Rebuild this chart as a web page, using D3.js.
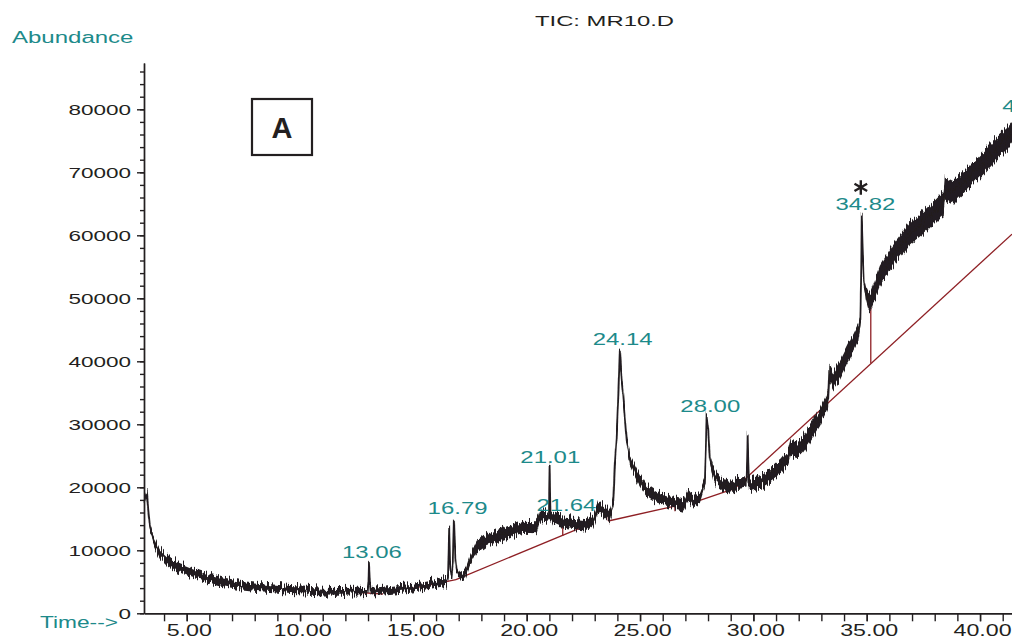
<!DOCTYPE html>
<html>
<head>
<meta charset="utf-8">
<script src="https://cdn.jsdelivr.net/npm/d3@7"></script>
<style>
  body { margin: 0; background: #fff; }
  svg { display: block; font-family: Arial, "Liberation Sans", Helvetica, sans-serif; }
</style>
</head>
<body>
<div id="chart-area"></div>
<script>
// retention time (min) / abundance
const time = [3.12, 3.2, 3.24, 3.31, 3.38, 3.53, 3.82, 4.12, 4.41, 4.85, 5.29, 5.88, 6.61, 7.35, 8.09, 8.82,
  9.56, 10.29, 11.03, 11.76, 12.5, 12.98, 13.02, 13.04, 13.08, 13.12, 13.23, 13.97, 14.7, 15.29, 15.88, 16.47,
  16.53, 16.58, 16.63, 16.68, 16.74, 16.79, 16.85, 16.91, 17.06, 17.28, 17.5, 17.79, 18.23, 18.82, 19.41, 19.85,
  20.44, 20.58, 20.88, 20.98, 21.01, 21.05, 21.17, 21.46, 22.05, 22.64, 22.94, 23.16, 23.45, 23.67, 23.82, 23.89,
  23.97, 24.04, 24.11, 24.19, 24.26, 24.33, 24.41, 24.55, 24.77, 24.99, 25.29, 25.73, 26.17, 26.61, 26.91, 27.13,
  27.35, 27.64, 27.86, 27.94, 28.01, 28.08, 28.23, 28.38, 28.67, 28.96, 29.26, 29.7, 29.75, 29.8, 29.88, 30.32,
  30.76, 31.2, 31.55, 31.64, 31.91, 32.2, 32.5, 32.94, 33.23, 33.3, 33.35, 33.52, 33.82, 34.11, 34.41, 34.63,
  34.72, 34.76, 34.78, 34.82, 34.87, 34.95, 35.07, 35.17, 35.58, 36.17, 36.9, 37.64, 38.22, 38.4, 38.45, 38.81,
  39.41, 40.14, 40.87, 41.24, 41.41];
const abundance = [17900, 19000, 19300, 16400, 13700, 11600, 9500, 8450, 7650, 7000, 6350, 5700, 5000, 4500, 4200, 3970,
  3700, 3600, 3450, 3400, 3430, 3450, 5000, 8030, 5000, 3450, 3430, 3700, 3970, 4220, 4600, 5010,
  6000, 13650, 7000, 5800, 8000, 15240, 9000, 6870, 5800, 6100, 8460, 10570, 11630, 12430, 13220, 13740,
  13650, 15330, 15440, 15400, 23420, 15300, 15080, 14540, 14280, 14010, 14810, 16920, 16120, 15330, 17460, 23800,
  28030, 34370, 41900, 37030, 34370, 31200, 27500, 24330, 22740, 21160, 19570, 18500, 17980, 17460, 17190, 18770,
  17710, 18250, 20630, 31310, 29090, 24850, 22220, 21160, 20360, 20090, 20520, 20600, 28450, 20600, 20400, 20900,
  21950, 23270, 24800, 26200, 25920, 26980, 28570, 31200, 33330, 34000, 38200, 37030, 38610, 40720, 42850, 44440,
  46500, 55000, 63300, 58000, 53000, 51000, 49700, 49500, 53500, 56900, 60300, 62400, 64500, 65000, 67500, 66800,
  68800, 71500, 74300, 75500, 76300];
// half-width of the noise band around the trace
const noise = [500, 500, 400, 500, 600, 700, 750, 750, 750, 750, 750, 720, 700, 680, 650, 620,
  620, 620, 620, 620, 620, 550, 100, 80, 100, 550, 620, 620, 620, 620, 620, 620,
  150, 100, 150, 200, 150, 100, 150, 350, 600, 750, 850, 950, 950, 950, 950, 950,
  950, 950, 900, 400, 100, 400, 900, 900, 900, 900, 900, 900, 900, 900, 600, 300,
  200, 150, 100, 300, 450, 550, 650, 800, 900, 900, 900, 900, 900, 900, 900, 900,
  900, 900, 600, 150, 300, 600, 850, 900, 950, 950, 1000, 800, 100, 800, 1000, 1050,
  1100, 1150, 1200, 1200, 1250, 1250, 1300, 1300, 1300, 1300, 1300, 1350, 1400, 1400, 1450, 1450,
  800, 200, 100, 200, 600, 1100, 1450, 1500, 1650, 1700, 1750, 1750, 1800, 1800, 1800, 1800,
  1800, 1850, 1850, 1850, 1850];

// integration baselines [t0, v0, t1, v1]
const baselines = [[12.5, 3330, 13.66, 3060], [14.85, 3860, 16.88, 5360], [16.88, 5360, 22.43, 13650],
  [23.6, 14650, 26.54, 17030], [27.35, 17550, 29.19, 19840], [29.19, 19840, 41.41, 60190]];
// drop lines [t, vLow, vHigh]
const drops = [[21.59, 12270, 14010], [23.6, 14650, 15300], [26.54, 16200, 17030], [35.18, 39680, 49880]];

// peak labels and where they sit
const peakNames = ["13.06", "16.79", "21.01", "21.64", "24.14", "28.00", "34.82", "41.25"];
const peakLabelT = [13.17, 16.95, 21.04, 21.75, 24.23, 28.1, 34.94, 42.3];
const peakLabelV = [8780, 15760, 23900, 16280, 42580, 31990, 64000, 79500];
// marked peak (asterisk)
const starT = 34.74, starV = 67600;

const yMajor = [0, 10000, 20000, 30000, 40000, 50000, 60000, 70000, 80000];
const xMajor = [5, 10, 15, 20, 25, 30, 35, 40];

const width = 1012, height = 640;
const ink = '#231f20', teal = '#1d8a8a', red = '#8e1f24';

const x = d3.scaleLinear().domain([3.116, 41.41]).range([144, 1012]);
const y = d3.scaleLinear().domain([0, 87350]).range([613.3, 63]);

const svg = d3.select('#chart-area').append('svg')
    .attr('width', width).attr('height', height);

// roughen the trace so it reads like a noisy detector signal
const jag = svg.append('defs').append('filter').attr('id', 'jag')
    .attr('x', '-1%').attr('y', '-5%').attr('width', '102%').attr('height', '110%');
jag.append('feTurbulence').attr('type', 'fractalNoise').attr('baseFrequency', '0.9 0.03')
    .attr('numOctaves', 2).attr('seed', 7).attr('result', 'noise');
jag.append('feColorMatrix').attr('in', 'noise').attr('type', 'matrix')
    .attr('values', '0 0 0 0 0.5  0 1 0 0 0  0 0 0 0 0  0 0 0 0 1').attr('result', 'ny');
jag.append('feDisplacementMap').attr('in', 'SourceGraphic').attr('in2', 'ny')
    .attr('scale', 15).attr('xChannelSelector', 'R').attr('yChannelSelector', 'G');

// stretch a text to k times its natural width, keeping its anchor
function stretch(sel, k, anchor) {
    sel.each(function() {
        const t = d3.select(this);
        const w = this.getComputedTextLength() * k;
        const x0 = +t.attr('x') || 0;
        const sx = anchor === 'end' ? x0 - w : anchor === 'middle' ? x0 - w / 2 : x0;
        t.attr('text-anchor', 'start').attr('x', sx)
         .attr('textLength', w).attr('lengthAdjust', 'spacingAndGlyphs');
    });
}

// y axis: minor every 2000, major every 10000
svg.append('g').attr('transform', 'translate(144,0)')
    .call(d3.axisLeft(y).tickValues(d3.range(0, 87350, 2000)).tickSize(4).tickSizeOuter(0).tickFormat(''))
    .call(g => g.selectAll('line,path').attr('stroke', ink).attr('stroke-width', 1.4));
const yAx = svg.append('g').attr('transform', 'translate(144,0)')
    .call(d3.axisLeft(y).tickValues(yMajor).tickSize(7).tickSizeOuter(0).tickPadding(6).tickFormat(d3.format('d')))
    .call(g => g.selectAll('line,path').attr('stroke', ink).attr('stroke-width', 1.4));
yAx.selectAll('text').attr('fill', ink).attr('font-size', 15).attr('dy', '0.36em')
    .call(stretch, 1.5, 'end');

// x axis: minor every minute
svg.append('g').attr('transform', 'translate(0,613.3)')
    .call(d3.axisBottom(x).tickValues(d3.range(4, 42, 1)).tickSize(8).tickSizeOuter(0).tickFormat(''))
    .call(g => g.selectAll('line,path').attr('stroke', ink).attr('stroke-width', 1.4));
const xAx = svg.append('g').attr('transform', 'translate(0,613.3)')
    .call(d3.axisBottom(x).tickValues(xMajor).tickSize(8).tickSizeOuter(0).tickPadding(3).tickFormat(d3.format('.2f')))
    .call(g => g.selectAll('line,path').attr('stroke', ink).attr('stroke-width', 1.4));
xAx.selectAll('text').attr('fill', ink).attr('font-size', 16).attr('x', 2)
    .call(stretch, 1.45, 'middle');

// baselines and drop lines
svg.append('g').selectAll('line.base')
    .data(baselines)
    .join('line')
    .attr('class', 'base')
    .attr('x1', d => x(d[0])).attr('y1', d => y(d[1]))
    .attr('x2', d => x(d[2])).attr('y2', d => y(d[3]))
    .attr('stroke', red).attr('stroke-width', 1.3);
svg.append('g').selectAll('line.drop')
    .data(drops)
    .join('line')
    .attr('class', 'drop')
    .attr('x1', d => x(d[0])).attr('y1', d => y(d[1]))
    .attr('x2', d => x(d[0])).attr('y2', d => y(d[2]))
    .attr('stroke', red).attr('stroke-width', 1.3);

// the trace: noise band + centre line
const pts = time.map((t, i) => ({t: t, v: abundance[i], n: noise[i]}));
const trace = svg.append('g').attr('filter', 'url(#jag)');
trace.append('path').datum(pts)
    .attr('d', d3.area().x(d => x(d.t)).y0(d => y(d.v - d.n)).y1(d => y(d.v + d.n)))
    .attr('fill', ink);
trace.append('path').datum(pts)
    .attr('d', d3.line().x(d => x(d.t)).y(d => y(d.v)))
    .attr('fill', 'none').attr('stroke', ink).attr('stroke-width', 1.8).attr('stroke-linejoin', 'round');

// peak labels
svg.append('g').selectAll('text')
    .data(peakNames)
    .join('text')
    .attr('x', (d, i) => x(peakLabelT[i]))
    .attr('y', (d, i) => y(peakLabelV[i]))
    .attr('fill', teal).attr('font-size', 16.5)
    .text(d => d)
    .call(stretch, 1.45, 'middle');

// asterisk marking the peak of interest
svg.append('path')
    .attr('transform', `translate(${x(starT)},${y(starV)})`)
    .attr('d', d3.symbol(d3.symbolAsterisk, 150)())
    .attr('fill', 'none').attr('stroke', ink).attr('stroke-width', 2.4);

// titles
svg.append('text').attr('x', 12).attr('y', 43.3)
    .attr('fill', teal).attr('font-size', 16).text('Abundance')
    .call(stretch, 1.5, 'start');
svg.append('text').attr('x', 535).attr('y', 26)
    .attr('fill', ink).attr('font-size', 14).text('TIC: MR10.D')
    .attr('textLength', 139).attr('lengthAdjust', 'spacingAndGlyphs');
svg.append('text').attr('x', 40).attr('y', 628)
    .attr('fill', teal).attr('font-size', 17).text('Time-->')
    .attr('textLength', 78).attr('lengthAdjust', 'spacingAndGlyphs');

// panel tag
svg.append('rect').attr('x', 252).attr('y', 99).attr('width', 60).attr('height', 56)
    .attr('fill', '#fff').attr('stroke', ink).attr('stroke-width', 2.2);
svg.append('text').attr('x', 282).attr('y', 138)
    .attr('text-anchor', 'middle').attr('font-size', 29).attr('font-weight', 'bold')
    .attr('fill', ink).text('A');
</script>
</body>
</html>
